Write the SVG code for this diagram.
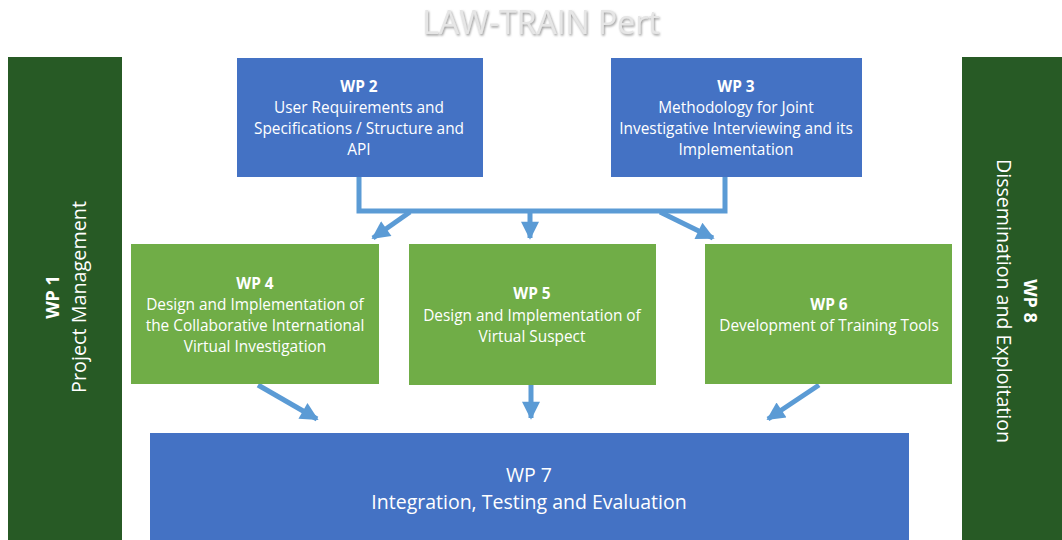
<svg xmlns="http://www.w3.org/2000/svg" width="1062" height="540" viewBox="0 0 1062 540">
<defs>
<style>
.t{font-family:"Open Sans","Noto Sans",sans-serif;fill:#fff;text-anchor:middle;font-size:15.4px}
.b{font-weight:bold}
.blue{fill:#4472C4}
.green{fill:#70AD47}
.dark{fill:#275A25}
.c{fill:none;stroke:#5B9BD5;stroke-width:5}
</style>
<marker id="ah" viewBox="0 0 10 10" refX="9" refY="5" markerWidth="4" markerHeight="3.6" orient="auto" markerUnits="strokeWidth">
<path d="M0,0 L10,5 L0,10 Z" fill="#5B9BD5"/>
</marker>
<filter id="sh" x="-10%" y="-30%" width="120%" height="160%">
<feDropShadow dx="1" dy="1.5" stdDeviation="1" flood-color="#808080" flood-opacity="0.8"/>
</filter>
</defs>
<rect width="1062" height="540" fill="#fff"/>
<text x="541" y="34" font-family="'Open Sans','Noto Sans',sans-serif" font-size="32" fill="#e6e6e6" text-anchor="middle" filter="url(#sh)">LAW-TRAIN Pert</text>

<g id="connectors">
<path class="c" d="M359,177 V211 H725 V177"/>
<path class="c" d="M410,212 L373,238" marker-end="url(#ah)"/>
<path class="c" d="M530,212 V238" marker-end="url(#ah)"/>
<path class="c" d="M660,212 L713,238" marker-end="url(#ah)"/>
<path class="c" d="M258,385 L317,419" marker-end="url(#ah)"/>
<path class="c" d="M531,385 V418" marker-end="url(#ah)"/>
<path class="c" d="M819,385 L768,419" marker-end="url(#ah)"/>
</g>

<g id="wp1">
<rect class="dark" x="8" y="57" width="114" height="483"/>
<text class="t" transform="translate(65,297) rotate(-90)"><tspan class="b" x="0" y="-6" font-size="18">WP 1</tspan><tspan x="0" y="21" font-size="19.8">Project Management</tspan></text>
</g>
<g id="wp8">
<rect class="dark" x="962" y="57" width="100" height="483"/>
<text class="t" transform="translate(1018,301) rotate(90)"><tspan class="b" x="0" y="-6" font-size="18">WP 8</tspan><tspan x="0" y="21" font-size="19.6">Dissemination and Exploitation</tspan></text>
</g>
<g id="wp2">
<rect class="blue" x="237" y="58" width="246" height="119"/>
<text class="t"><tspan class="b" x="359" y="92">WP 2</tspan><tspan x="359" y="113">User Requirements and</tspan><tspan x="359" y="134">Specifications / Structure and</tspan><tspan x="359" y="155">API</tspan></text>
</g>
<g id="wp3">
<rect class="blue" x="611" y="58" width="251" height="119"/>
<text class="t"><tspan class="b" x="736" y="92">WP 3</tspan><tspan x="736" y="113">Methodology for Joint</tspan><tspan x="736" y="134">Investigative Interviewing and its</tspan><tspan x="736" y="155">Implementation</tspan></text>
</g>
<g id="wp4">
<rect class="green" x="131" y="244" width="248" height="140"/>
<text class="t"><tspan class="b" x="255" y="289">WP 4</tspan><tspan x="255" y="310">Design and Implementation of</tspan><tspan x="255" y="331">the Collaborative International</tspan><tspan x="255" y="352">Virtual Investigation</tspan></text>
</g>
<g id="wp5">
<rect class="green" x="409" y="244" width="247" height="141"/>
<text class="t"><tspan class="b" x="532" y="299">WP 5</tspan><tspan x="532" y="321">Design and Implementation of</tspan><tspan x="532" y="342">Virtual Suspect</tspan></text>
</g>
<g id="wp6">
<rect class="green" x="705" y="244" width="247" height="140"/>
<text class="t"><tspan class="b" x="829" y="310">WP 6</tspan><tspan x="829" y="331">Development of Training Tools</tspan></text>
</g>
<g id="wp7">
<rect class="blue" x="150" y="433" width="759" height="107"/>
<text class="t"><tspan x="529" y="482" font-size="19.5">WP 7</tspan><tspan x="529" y="509" font-size="19.5">Integration, Testing and Evaluation</tspan></text>
</g>
</svg>
